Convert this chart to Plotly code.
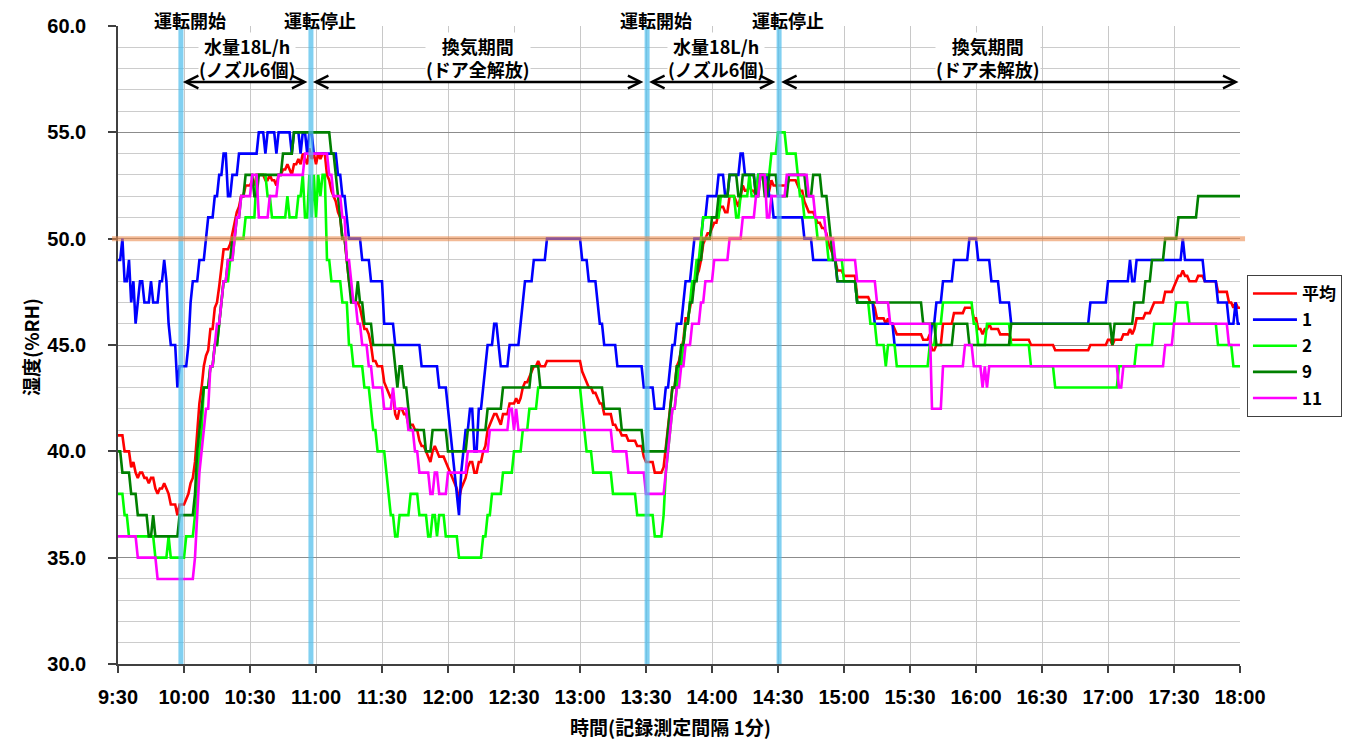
import numpy as np
import plotly.graph_objects as go

# ---------------- data ----------------
# time axis: minutes after 9:30, 1-minute logging, 9:30 .. 18:00
N_MIN = 511
tick_minutes = list(range(0, 511, 30))
tick_labels = ["9:30", "10:00", "10:30", "11:00", "11:30", "12:00", "12:30", "13:00",
               "13:30", "14:00", "14:30", "15:00", "15:30", "16:00", "16:30", "17:00",
               "17:30", "18:00"]

# step readings (minute, %RH) - value holds until the next entry
sensor1 = [(0,49),(2,50),(3,48),(5,49),(6,47),(7,48),(8,46),(9,47),(10,48),(12,47),(15,48),(16,47),
           (19,48),(21,49),(22,48),(23,46),(24,45),(27,43),(28,44),(32,45),(33,47),(34,48),(37,49),
           (40,50),(41,51),(44,52),(46,53),(48,54),(50,52),(52,53),(55,54),(64,55),(67,54),(68,55),
           (72,54),(73,55),(79,54),(80,55),(83,54),(84,55),(86,54),(87,55),(89,54),(100,53),(102,52),
           (104,51),(105,50),(111,49),(115,48),(121,46),(126,45),(138,44),(146,43),(150,42),(151,41),
           (152,40),(153,39),(154,38),(155,37),(156,39),(157,40),(158,41),(160,42),(162,40),(164,42),
           (166,43),(167,44),(168,45),(171,46),(173,45),(174,44),(178,45),(183,46),(184,47),(185,48),
           (189,49),(195,50),(211,49),(214,48),(218,47),(219,46),(221,45),(227,44),(239,43),(244,42),
           (249,43),(251,44),(252,45),(254,46),(257,47),(258,48),(261,49),(262,50),(266,51),(268,52),
           (273,53),(276,52),(278,53),(283,54),(285,53),(290,52),(291,53),(296,52),(298,51),(312,50),
           (316,49),(327,48),(336,47),(344,46),(353,45),(370,46),(372,47),(375,48),(380,49),(387,50),
           (391,49),(397,48),(401,47),(406,46),(442,47),(450,48),(460,49),(461,48),(463,49),(484,50),
           (485,49),(494,48),(500,47),(505,46),(508,47),(509,46)]

sensor2 = [(0,38),(3,37),(5,36),(17,35),(23,36),(24,35),(31,36),(35,37),(36,38),(37,40),(38,41),
           (39,43),(42,44),(44,45),(46,46),(47,47),(48,48),(51,49),(53,50),(58,51),(63,53),(68,52),
           (70,51),(77,52),(78,51),(82,52),(84,53),(85,51),(87,53),(88,51),(89,53),(90,51),(91,53),
           (92,52),(93,53),(95,49),(97,48),(102,47),(105,45),(107,44),(112,43),(115,42),(116,41),
           (118,40),(122,39),(123,38),(124,37),(126,36),(128,37),(133,38),(137,37),(141,36),(143,37),
           (145,36),(146,37),(149,36),(155,35),(166,36),(168,37),(170,38),(175,39),(180,40),(184,41),
           (187,42),(191,43),(211,42),(212,41),(213,40),(216,39),(225,38),(236,37),(244,36),(248,37),
           (249,39),(250,40),(251,41),(252,42),(254,43),(255,44),(257,45),(258,46),(260,47),(261,48),
           (263,49),(265,50),(266,51),(274,52),(281,51),(283,52),(287,53),(288,52),(291,53),(297,54),
           (300,55),(304,54),(309,53),(310,52),(312,51),(318,50),(323,49),(330,48),(336,47),(342,46),
           (345,45),(349,44),(350,45),(354,44),(369,45),(372,46),(375,47),(389,46),(391,45),(395,46),
           (406,45),(415,44),(426,43),(455,44),(463,45),(471,46),(481,47),(487,46),(500,45),(507,44)]

sensor9 = [(0,40),(2,39),(6,38),(9,37),(14,36),(16,37),(17,36),(28,37),(35,38),(36,40),(37,41),
           (38,42),(39,43),(42,44),(44,45),(46,46),(47,47),(48,48),(50,49),(52,50),(54,51),(56,52),
           (58,53),(62,52),(64,53),(75,54),(80,55),(97,54),(99,53),(100,52),(101,51),(102,50),
           (104,49),(105,48),(106,47),(109,48),(110,47),(112,46),(116,45),(126,44),(127,43),(128,44),
           (130,43),(132,42),(133,41),(140,40),(143,41),(150,40),(159,41),(168,42),(175,43),(188,44),
           (192,43),(221,42),(229,41),(239,40),(250,41),(251,42),(252,43),(254,44),(256,45),(258,46),
           (260,47),(262,48),(264,49),(266,50),(270,51),(273,52),(278,53),(282,52),(284,53),(290,52),
           (292,53),(294,52),(296,53),(300,52),(305,53),(313,52),(316,53),(320,52),(323,51),(324,50),
           (325,49),(327,48),(336,47),(366,46),(372,45),(380,46),(387,45),(406,46),(452,45),(453,46),
           (462,47),(467,48),(470,49),(476,50),(482,51),(491,52)]

sensor11 = [(0,36),(9,35),(18,34),(35,35),(36,37),(37,39),(38,40),(39,41),(40,42),(42,44),(44,45),
            (45,46),(47,47),(48,48),(50,49),(53,50),(54,51),(56,52),(61,53),(64,51),(69,52),(73,53),
            (85,54),(96,53),(98,52),(102,51),(104,49),(106,48),(107,47),(109,46),(111,45),(114,44),
            (116,43),(121,42),(125,43),(126,42),(132,41),(135,40),(137,39),(142,38),(144,39),(146,38),
            (150,39),(159,40),(169,41),(178,42),(180,41),(181,42),(182,41),(225,40),(232,39),(240,38),
            (249,39),(250,40),(251,41),(252,42),(254,43),(256,44),(258,45),(261,46),(265,47),(267,48),
            (271,49),(278,50),(284,51),(290,52),(292,53),(295,51),(297,52),(304,53),(314,52),(317,51),
            (322,50),(326,49),(336,48),(345,47),(351,46),(370,42),(375,44),(385,45),(389,44),(393,43),
            (394,44),(395,43),(396,44),(455,43),(457,44),(476,45),(480,46),(505,45)]

series_names = ["平均", "1", "2", "9", "11"]
series_colors = ["#ff0000", "#0000ff", "#00ff00", "#008000", "#ff00ff"]

# event times (minutes after 9:30): operation start / stop
event_minutes = [28.6, 87.7, 240.5, 300.5]
event_labels = ["運転開始", "運転停止", "運転開始", "運転停止"]
period_centers = [58.6, 163.6, 271.8, 395.5]
period_labels = ["水量18L/h<br>(ノズル6個)", "換気期間<br>(ドア全解放)",
                 "水量18L/h<br>(ノズル6個)", "換気期間<br>(ドア未解放)"]
period_spans = [(29.5, 86.8), (88.6, 239.5), (241.4, 299.5), (301.4, 510.0)]
target_rh = 50.0


def expand(steps, n=N_MIN):
    vals = np.empty(n)
    for i, (m, v) in enumerate(steps):
        end = steps[i + 1][0] if i + 1 < len(steps) else n
        vals[m:end] = v
    return vals


minutes = np.arange(N_MIN)
s1, s2, s9, s11 = (expand(s) for s in (sensor1, sensor2, sensor9, sensor11))
avg = (s1 + s2 + s9 + s11) / 4.0
all_series = [avg, s1, s2, s9, s11]

# ---------------- figure ----------------
fig = go.Figure()
for i, (name, ys, col) in enumerate(zip(series_names, all_series, series_colors)):
    fig.add_trace(go.Scatter(x=minutes, y=ys, mode="lines", name=name,
                             line=dict(color=col, width=2.6),
                             legendgroup=f"g{i}"))

FONT_NUM = "Liberation Sans, Noto Sans CJK JP"
FONT_JP = "Noto Sans CJK JP, Liberation Sans"

# the page body has an 8px margin: the figure is sized so the plot area
# lands at x 118..1240, y 26..664 in the 1350x740 window
PLOT_TOP, PLOT_BOTTOM, PLOT_LEFT, PLOT_W = 26, 664, 118, 1122


def py(px):  # window pixel row -> paper y
    return (PLOT_BOTTOM - px) / (PLOT_BOTTOM - PLOT_TOP)


fig.update_layout(
    width=1342, height=732,
    margin=dict(l=110, r=110, t=18, b=76, autoexpand=False),
    plot_bgcolor="white", paper_bgcolor="white",
    showlegend=True,
    legend=dict(x=1.0062, y=py(275), xanchor="left", yanchor="top",
                bordercolor="#404040", borderwidth=1, bgcolor="white",
                font=dict(family=FONT_JP, size=17, color="black", weight="bold"),
                tracegroupgap=1, itemwidth=44),
    xaxis=dict(range=[0, 510], tickvals=tick_minutes, ticktext=tick_labels,
               showline=True, linecolor="#404040", linewidth=1.5,
               ticks="outside", ticklen=7, tickcolor="#404040", tickwidth=1.5,
               showgrid=True, gridcolor="#c8c8c8", gridwidth=1.3, zeroline=False,
               tickfont=dict(family=FONT_NUM, size=20, color="black", weight="bold"),
               ticklabelstandoff=7),
    yaxis=dict(range=[30, 60], dtick=5, tick0=30, tickformat=".1f",
               showline=True, linecolor="#404040", linewidth=1.5,
               ticks="outside", ticklen=8, tickcolor="#404040", tickwidth=1.5,
               showgrid=True, gridcolor="#8c8c8c", gridwidth=1.3, zeroline=False,
               minor=dict(dtick=1, showgrid=True, gridcolor="#cccccc", gridwidth=1.3),
               tickfont=dict(family=FONT_NUM, size=20, color="black", weight="bold"),
               ticklabelstandoff=18),
)

# light-blue operation start/stop markers
for m in event_minutes:
    fig.add_shape(type="line", xref="x", yref="paper", x0=m, x1=m, y0=0, y1=1,
                  line=dict(color="rgba(80,190,235,0.72)", width=5), layer="above")

# 50 %RH reference line
fig.add_shape(type="line", xref="paper", yref="y", x0=-0.0053, x1=1.0045,
              y0=target_rh, y1=target_rh,
              line=dict(color="rgba(235,140,80,0.6)", width=5), layer="above")

# event labels above the plot
for m, lab in zip(event_minutes, event_labels):
    fig.add_annotation(x=m + 4.1, y=py(19.5), xref="x", yref="paper", text=lab,
                       showarrow=False, yanchor="middle", borderpad=0,
                       font=dict(family=FONT_JP, size=18, color="black", weight="bold"))

# period labels (two lines, white background over the grid)
for c, lab in zip(period_centers, period_labels):
    fig.add_annotation(x=c, y=py(57.5), xref="x", yref="paper", text=lab,
                       showarrow=False, yanchor="middle", bgcolor="white", borderpad=0,
                       font=dict(family=FONT_JP, size=18, color="black", weight="bold"))

# double-headed period arrows
arrow_y = 57.37
for a, b in period_spans:
    fig.add_annotation(x=a, y=arrow_y, ax=b, ay=arrow_y, xref="x", yref="y",
                       axref="x", ayref="y", text="", showarrow=True,
                       arrowhead=5, startarrowhead=5, arrowside="end+start",
                       arrowwidth=2.5, arrowsize=1, startarrowsize=1,
                       arrowcolor="black", standoff=0, startstandoff=0)

# axis titles
fig.add_annotation(x=(670 - PLOT_LEFT) / PLOT_W, y=py(726.5), xref="paper", yref="paper",
                   text="時間(記録測定間隔 1分)", showarrow=False, yanchor="middle",
                   borderpad=0,
                   font=dict(family=FONT_JP, size=19, color="black", weight="bold"))
fig.add_annotation(x=(30 - PLOT_LEFT) / PLOT_W, y=py(347), xref="paper", yref="paper",
                   text="湿度(%RH)", showarrow=False, textangle=-90,
                   xanchor="center", yanchor="middle",
                   font=dict(family=FONT_JP, size=19, color="black", weight="bold"))

fig.write_html("out.html")
